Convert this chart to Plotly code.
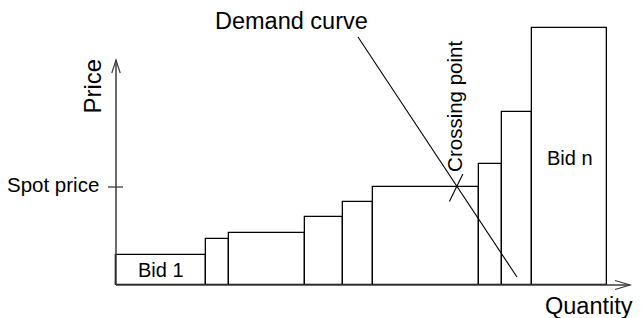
import plotly.graph_objects as go

# ---- data (quantity / price units) ----
bid_labels = ["Bid 1", "", "", "", "", "", "", "", "Bid n"]
bid_widths = [9.0, 2.3, 7.6, 3.8, 3.0, 10.6, 2.3, 3.0, 7.5]
bid_prices = [3.0, 4.6, 5.2, 6.8, 8.3, 9.8, 12.1, 17.3, 25.7]
demand_q = [24.2, 40.1]
demand_p = [24.8, 0.8]
spot_price = 9.8
axis_q_max = 51.4
axis_p_max = 22.5

FONT = "Liberation Sans, Arial, Helvetica, sans-serif"

# bar centres from cumulative widths
centers = []
left = 0.0
for w in bid_widths:
    centers.append(left + w / 2)
    left += w

# crossing of demand curve with spot price
slope = (demand_p[1] - demand_p[0]) / (demand_q[1] - demand_q[0])
cross_q = demand_q[0] + (spot_price - demand_p[0]) / slope

fig = go.Figure()
fig.add_trace(go.Bar(
    x=centers, y=bid_prices, width=bid_widths,
    marker=dict(color="white", line=dict(color="black", width=1.3)),
    hoverinfo="skip", showlegend=False,
))
fig.add_trace(go.Scatter(
    x=demand_q, y=demand_p, mode="lines",
    line=dict(color="black", width=1.1),
    hoverinfo="skip", showlegend=False,
))

axc = "#3a3a3a"
shapes = [
    # axes
    dict(type="line", x0=0, y0=0, x1=0, y1=axis_p_max, line=dict(color=axc, width=1.5)),
    dict(type="line", x0=0, y0=0, x1=axis_q_max, y1=0, line=dict(color=axc, width=1.5)),
    # arrowheads (open)
    dict(type="path", path=f"M {-0.42},{axis_p_max-1.3} L 0,{axis_p_max} L 0.42,{axis_p_max-1.3}",
         line=dict(color=axc, width=1.2)),
    dict(type="path", path=f"M {axis_q_max-1.5},0.45 L {axis_q_max},0 L {axis_q_max-1.5},-0.45",
         line=dict(color=axc, width=1.2)),
    # spot price tick
    dict(type="line", x0=-0.8, y0=spot_price, x1=0.7, y1=spot_price, line=dict(color=axc, width=1.3)),
    # crossing point mark
    dict(type="line", x0=cross_q - 0.8, y0=spot_price - 1.45, x1=cross_q + 0.55, y1=spot_price + 1.3,
         line=dict(color="black", width=1.1)),
]

annotations = [
    dict(x=17.5, y=26.4, text="Demand curve", font=dict(size=23.5)),
    dict(x=-2.4, y=19.85, text="Price", textangle=-90, font=dict(size=24)),
    dict(x=47.3, y=-2.1, text="Quantity", font=dict(size=23.5)),
    dict(x=-1.5, y=10.1, text="Spot price", xanchor="right", font=dict(size=20.5)),
    dict(x=cross_q - 0.35, y=17.9, text="Crossing point", textangle=-90, font=dict(size=20.5)),
]
for c, p, lab in zip(centers, bid_prices, bid_labels):
    if lab == "Bid 1":
        annotations.append(dict(x=c, y=p / 2, text=lab, font=dict(size=20)))
    elif lab:
        annotations.append(dict(x=c, y=12.7, text=lab, font=dict(size=20)))
for a in annotations:
    a.update(xref="x", yref="y", showarrow=False)
    a.setdefault("xanchor", "center")
    a.setdefault("yanchor", "middle")
    a["font"].update(family=FONT, color="black")

fig.update_layout(
    width=633, height=310,
    margin=dict(l=0, r=0, t=0, b=0),
    paper_bgcolor="white", plot_bgcolor="white",
    xaxis=dict(range=[-10.8, 52.5], visible=False),
    yaxis=dict(range=[-3.3, 27.7], visible=False),
    shapes=shapes, annotations=annotations,
    bargap=0,
)
fig.write_html("out.html")
